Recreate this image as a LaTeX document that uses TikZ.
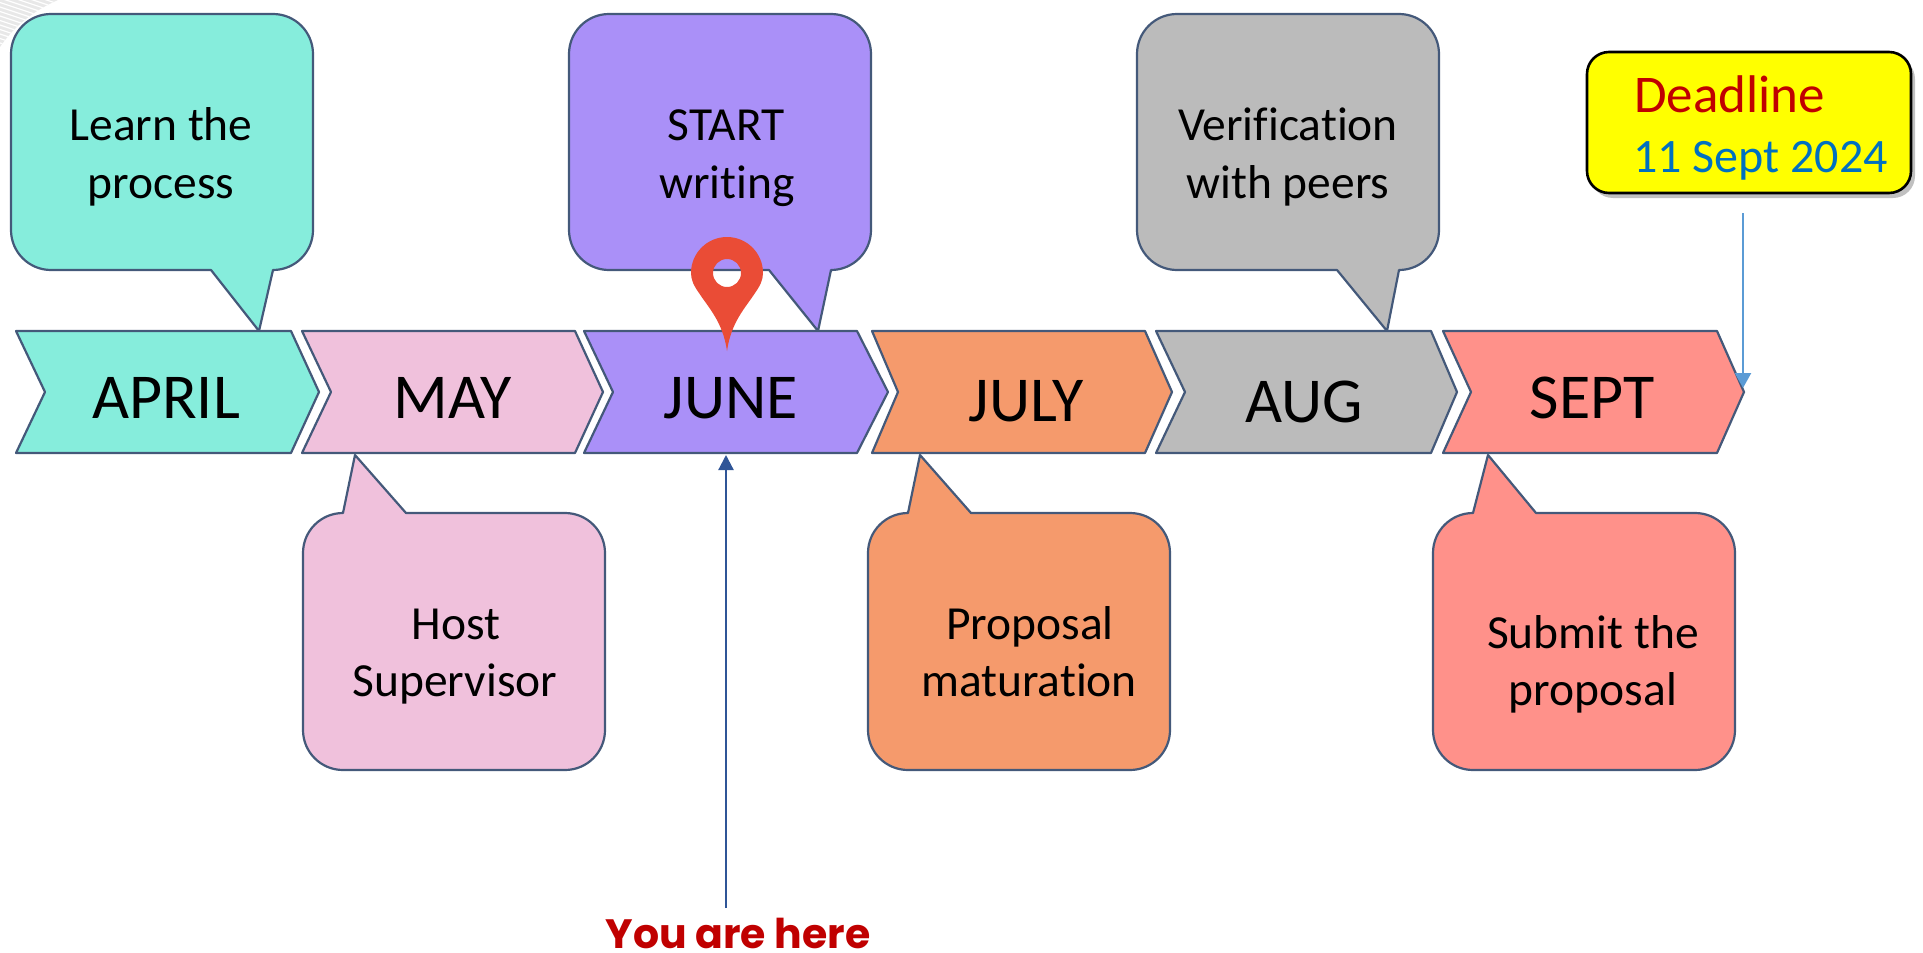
\documentclass[tikz,border=0pt]{standalone}
\usepackage{fontspec}
\setmainfont[RawFeature={-liga}]{Carlito}
\newfontfamily\gothic{Poppins}
\usetikzlibrary{arrows.meta,shadows}
\definecolor{edgeblue}{HTML}{44597A}
\definecolor{cteal}{HTML}{86EDDC}
\definecolor{cpink}{HTML}{F0C1DC}
\definecolor{cpurple}{HTML}{AA90F8}
\definecolor{corange}{HTML}{F59A6C}
\definecolor{cgray}{HTML}{BBBBBB}
\definecolor{csalmon}{HTML}{FF918A}
\definecolor{cdarkred}{HTML}{C00000}
\definecolor{cdate}{HTML}{0070C0}
\definecolor{cpin}{HTML}{EA4C36}
\definecolor{carrowa}{HTML}{2F5597}
\definecolor{carrowb}{HTML}{5B9BD5}
\definecolor{cyellow}{HTML}{FFFF00}
\tikzset{
  shapeline/.style={draw=edgeblue,line width=2.2pt,line join=round},
  monthlabel/.style={font=\fontsize{64}{64}\selectfont,anchor=base,inner sep=0pt},
  notelabel/.style={font=\fontsize{47.5}{58}\selectfont,anchor=base,inner sep=0pt},
}
% chevron: fill, left, notch, top right, tip
\newcommand{\chevshape}[5]{\path[shapeline,fill=#1] (#2,331)--(#4,331)--(#5,392)--(#4,453)--(#2,453)--(#3,392)--cycle;}
% callout above: fill, left, tail tip offset
\newcommand{\upcall}[3]{\path[shapeline,fill=#1]
  (#2+40,14)--(#2+262,14) arc[start angle=270,end angle=360,radius=40]
  --(#2+302,230) arc[start angle=0,end angle=90,radius=40]
  --(#2+262,270)--(#2+#3,331)--(#2+200,270)--(#2+40,270)
  arc[start angle=90,end angle=180,radius=40]--(#2,54)
  arc[start angle=180,end angle=270,radius=40]--cycle;}
% callout below: fill, left, tail tip offset
\newcommand{\downcall}[3]{\path[shapeline,fill=#1]
  (#2+40,513)--(#2+#3,455)--(#2+103,513)--(#2+262,513)
  arc[start angle=270,end angle=360,radius=40]
  --(#2+302,730) arc[start angle=0,end angle=90,radius=40]
  --(#2+40,770) arc[start angle=90,end angle=180,radius=40]
  --(#2,553) arc[start angle=180,end angle=270,radius=40]--cycle;}
\begin{document}
\begin{tikzpicture}[x=1pt,y=-1pt]
\useasboundingbox (0,0) rectangle (1923,953);
% faint corner decoration
\begin{scope}
\clip (0,0) -- (58,0) .. controls (35,10) and (15,25) .. (0,47) -- cycle;
\fill[black!9] (0,0) rectangle (60,50);
\foreach \i in {0,...,16}{
  \draw[white,line width=1.2pt] (0,{-20+4.5*\i}) -- (60,{4.5*\i});
}
\end{scope}
% callouts
\upcall{cteal}{11}{248}
\upcall{cpurple}{569}{249}
\upcall{cgray}{1137}{250}
\downcall{cpink}{303}{52}
\downcall{corange}{868}{52}
\downcall{csalmon}{1433}{55}
% chevrons
\chevshape{cteal}{16}{45}{291}{319}
\chevshape{cpink}{302}{331}{575}{603}
\chevshape{cpurple}{584}{613}{857}{888}
\chevshape{corange}{872}{898}{1145}{1172}
\chevshape{cgray}{1156}{1185}{1431}{1457}
\chevshape{csalmon}{1443}{1471}{1717}{1744}
% month labels
\node[monthlabel] (april) at (166,418) {APRIL};
\node[monthlabel] (may) at (453,418) {MAY};
\node[monthlabel] (june) at (731,418) {JUNE};
\node[monthlabel] (july) at (1026,421.5) {JULY};
\node[monthlabel] (aug) at (1304,422) {AUG};
\node[monthlabel] (sept) at (1592,418) {SEPT};
% notes
\node[notelabel] (n1a) at (161,140) {Learn the};
\node[notelabel] (n1b) at (161,198) {process};
\node[notelabel] (n2a) at (726,140) {START};
\node[notelabel] (n2b) at (727,198) {writing};
\node[notelabel] (n3a) at (1288,140) {Verification};
\node[notelabel] (n3b) at (1288,198) {with peers};
\node[notelabel] (n4a) at (456,639) {Host};
\node[notelabel] (n4b) at (455,696) {Supervisor};
\node[notelabel] (n5a) at (1030,639) {Proposal};
\node[notelabel] (n5b) at (1029,696) {maturation};
\node[notelabel] (n6a) at (1593,648) {Submit the};
\node[notelabel] (n6b) at (1593,705) {proposal};
% deadline box
\node[draw=black,line width=2.6pt,fill=cyellow,rounded corners=22pt,minimum width=324pt,minimum height=141pt,inner sep=0pt,
  drop shadow={shadow xshift=4pt,shadow yshift=-5pt,fill=black!45,opacity=0.55}] (deadline) at (1749,122.5) {};
\node[font=\fontsize{53}{53}\selectfont,text=cdarkred,anchor=base west,inner sep=0pt] (dl) at (1634,112) {Deadline};
\node[font=\fontsize{48}{48}\selectfont,text=cdate,anchor=base west,inner sep=0pt] (dd) at (1633,172) {11 Sept 2024};
% pin
\path[fill=cpin,even odd rule] (727,351) .. controls (723,322) and (708,307) .. (699,293)
  .. controls (694,286) and (691,280) .. (691,273)
  arc[start angle=180,end angle=360,radius=36]
  .. controls (763,280) and (760,286) .. (755,293)
  .. controls (746,307) and (731,322) .. (727,351) -- cycle
  (741,273) arc[start angle=0,end angle=360,radius=14];
% arrows
\coordinate (hereTail) at (726,908);
\coordinate (hereTip) at (726,455);
\coordinate (dlTail) at (1743,213);
\coordinate (dlTip) at (1743,388);
\draw[carrowa,line width=2.2pt,-{Triangle[length=15pt,width=15pt]}] (hereTail) -- (hereTip);
\draw[carrowb,line width=2.2pt,-{Triangle[length=15pt,width=16pt]}] (dlTail) -- (dlTip);
\node[font=\gothic\bfseries\fontsize{41}{41}\selectfont,text=cdarkred,anchor=base,inner sep=0pt] (here) at (738,948.5) {You are here};
\end{tikzpicture}
\end{document}
